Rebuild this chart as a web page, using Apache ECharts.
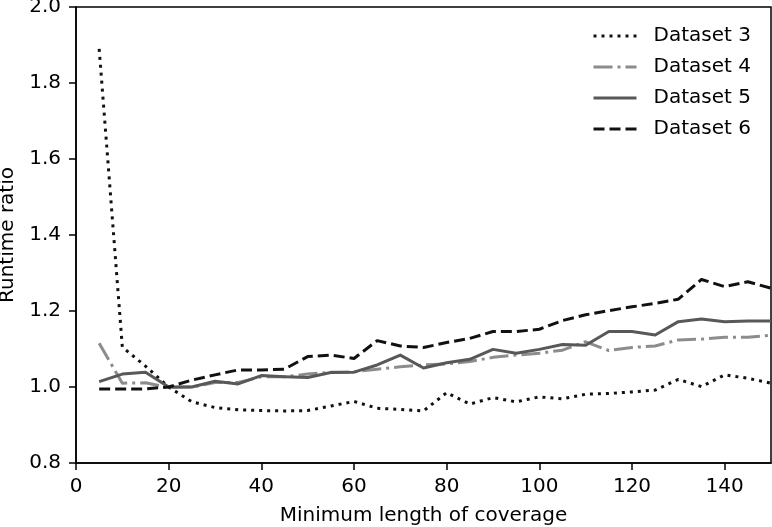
<!DOCTYPE html>
<html>
<head>
<meta charset="utf-8">
<script src="https://cdn.jsdelivr.net/npm/echarts@6/dist/echarts.min.js"></script>
<style>html,body{margin:0;padding:0;background:#fff;}#chart{width:772px;height:527px;}</style>
</head>
<body>
<div id="chart"></div>
<script>
const coverage = [5,10,15,20,25,30,35,40,45,50,55,60,65,70,75,80,85,90,95,100,105,110,115,120,125,130,135,140,145,150];
const dataset3 = [1.89,1.105,1.055,1.0,0.961,0.946,0.94,0.938,0.937,0.938,0.95,0.962,0.944,0.941,0.937,0.985,0.955,0.972,0.961,0.974,0.969,0.981,0.983,0.987,0.992,1.02,1.001,1.032,1.023,1.01];
const dataset4 = [1.115,1.01,1.011,0.999,1.0,1.012,1.012,1.027,1.027,1.034,1.039,1.04,1.047,1.053,1.058,1.061,1.067,1.078,1.084,1.089,1.097,1.119,1.096,1.104,1.108,1.124,1.126,1.131,1.131,1.136];
const dataset5 = [1.014,1.034,1.039,1.0,1.0,1.015,1.008,1.03,1.027,1.025,1.038,1.039,1.058,1.084,1.05,1.064,1.073,1.099,1.089,1.099,1.112,1.11,1.146,1.146,1.137,1.172,1.179,1.172,1.174,1.174];
const dataset6 = [0.995,0.995,0.995,1.0,1.018,1.032,1.045,1.045,1.047,1.08,1.084,1.075,1.122,1.108,1.104,1.117,1.128,1.146,1.146,1.152,1.175,1.19,1.201,1.211,1.22,1.231,1.283,1.264,1.277,1.26];
const seriesNames = ['Dataset 3','Dataset 4','Dataset 5','Dataset 6'];
const xTicks = [0,20,40,60,80,100,120,140];
const yTicks = [0.8,1.0,1.2,1.4,1.6,1.8,2.0];

const font = 'DejaVu Sans';
function pairs(ys){ return coverage.map((x,i)=>[x, ys[i]]); }
const styles = [
  {color:'#111111', type:[3,5]},
  {color:'#8c8c8c', type:[19,5,3,5]},
  {color:'#585858', type:'solid'},
  {color:'#111111', type:[11,5]}
];
const allData = [dataset3, dataset4, dataset5, dataset6];

const chart = echarts.init(document.getElementById('chart'), null, {renderer:'canvas'});
chart.setOption({
  animation:false,
  backgroundColor:'#fff',
  textStyle:{fontFamily:font},
  grid:{left:76, right:1, top:7, bottom:64, show:true, borderColor:'#000', borderWidth:1.5, backgroundColor:'transparent', containLabel:false, outerBoundsMode:'none'},
  legend:{
    orient:'vertical', left:587, top:21, itemWidth:43, itemHeight:14, itemGap:11,
    itemStyle:{opacity:0},
    lineStyle:{width:3},
    textStyle:{fontFamily:font, fontSize:20, color:'#000', lineHeight:20, padding:[0,0,0,12]},
    data:seriesNames
  },
  xAxis:{
    type:'value', min:0, max:150, interval:20,
    name:'Minimum length of coverage', nameLocation:'middle', nameGap:43,
    nameTextStyle:{fontFamily:font, fontSize:20, color:'#000'},
    axisLine:{show:true, lineStyle:{color:'#000', width:1.5}},
    axisTick:{show:true, length:7, lineStyle:{color:'#000', width:1.5}, customValues:xTicks},
    axisLabel:{fontFamily:font, fontSize:20, color:'#000', margin:14, customValues:xTicks},
    splitLine:{show:false}
  },
  yAxis:{
    type:'value', min:0.8, max:2.0, interval:0.2,
    name:'Runtime ratio', nameLocation:'middle', nameGap:56,
    nameTextStyle:{fontFamily:font, fontSize:20, color:'#000'},
    axisLine:{show:true, lineStyle:{color:'#000', width:1.5}},
    axisTick:{show:true, length:7, lineStyle:{color:'#000', width:1.5}, customValues:yTicks},
    axisLabel:{fontFamily:font, fontSize:20, color:'#000', margin:15, customValues:yTicks, formatter:v=>Number(v).toFixed(1)},
    splitLine:{show:false}
  },
  series: seriesNames.map((n,i)=>({
    name:n, type:'line', data:pairs(allData[i]), symbol:'none', showSymbol:false,
    color:styles[i].color,
    lineStyle:{color:styles[i].color, width:3, type:styles[i].type, cap:'butt', join:'round'},
    z:2+i
  }))
});
</script>
</body>
</html>
